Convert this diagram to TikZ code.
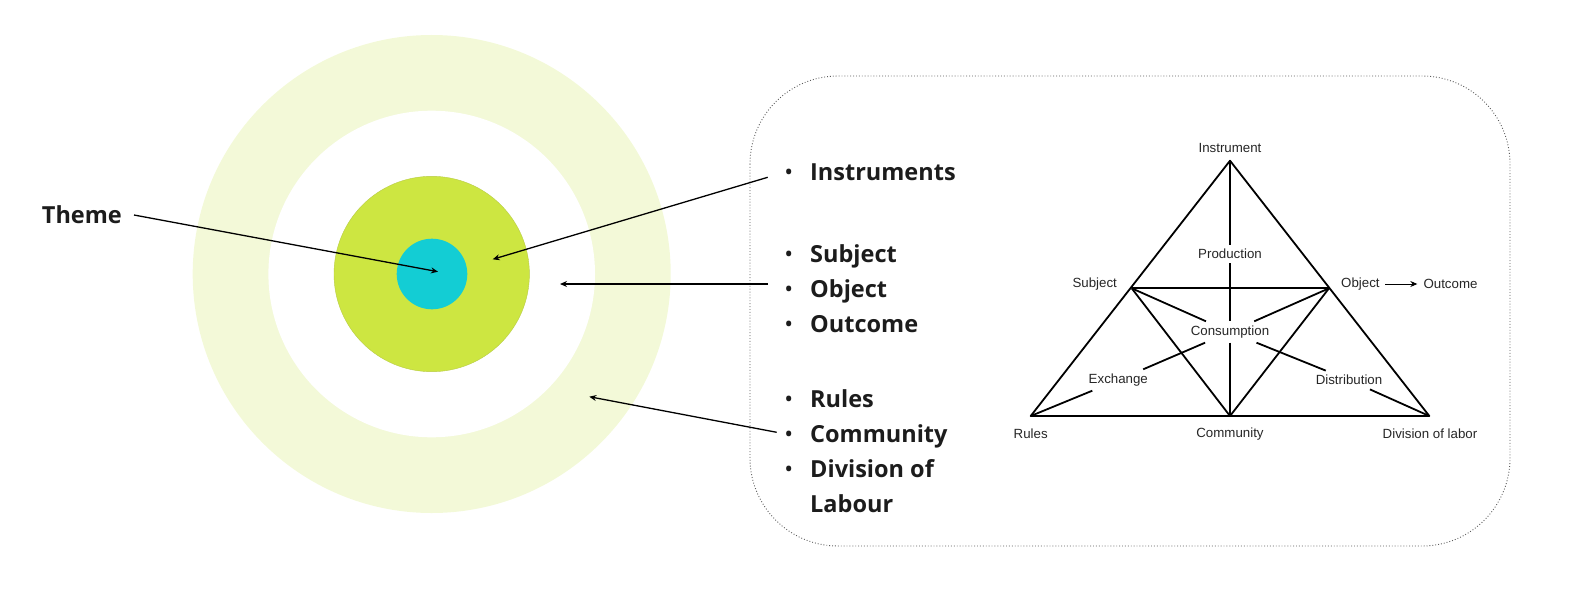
\documentclass[tikz,border=0pt]{standalone}
\usepackage{fontspec}
\setmainfont{Liberation Sans}
\newfontfamily\osans{Open Sans}
\usetikzlibrary{arrows.meta}
\definecolor{ringc}{HTML}{F3F9D8}
\definecolor{greenc}{HTML}{CDE641}
\definecolor{greenedge}{HTML}{B8CC45}
\definecolor{cyanc}{HTML}{13CDD4}
\definecolor{txt}{HTML}{1C1C1C}
\definecolor{boxc}{HTML}{5A5A5A}
\tikzset{
  big/.style={font=\osans\bfseries\fontsize{23.5}{28}\selectfont, text=txt, inner sep=0, anchor=base west},
  tri/.style={font=\fontsize{13.3}{15}\selectfont, text=black!85, inner sep=0},
  lab/.style={font=\fontsize{13.3}{15}\selectfont, text=black!85, inner sep=4.5, outer sep=0},
  tline/.style={line width=1.8, black},
  ptr/.style={line width=1.3, black, -{Stealth[length=7,width=6]}}
}
\newcommand{\bitem}[1]{\llap{{\mdseries\textbullet}\hspace{17pt}}#1}
\begin{document}
\begin{tikzpicture}[x=1pt,y=-1pt]
\useasboundingbox (0,0) rectangle (1578,591);
% target circles
\fill[ringc] (431.7,274) circle (239);
\fill[white] (431.7,274) circle (163.3);
\filldraw[fill=greenc, draw=greenedge, line width=0.4] (431.7,274) circle (97.7);
\fill[cyanc] (432,274) circle (35.3);

% rounded box
\draw[boxc, dotted, line width=0.9, rounded corners=88] (750,76) rectangle (1510,546);

% left labels
\node[big] (theme) at (41.7,223.3) {Theme};
\node[big] (ins) at (810,180.7) {\bitem{Instruments}};
\node[big] (sub) at (810,262.5) {\bitem{Subject}};
\node[big] (obj) at (810,297.5) {\bitem{Object}};
\node[big] (outc) at (810,332.5) {\bitem{Outcome}};
\node[big] (rul) at (810,407) {\bitem{Rules}};
\node[big] (com) at (810,442) {\bitem{Community}};
\node[big] (div) at (810,477) {\bitem{Division of}};
\node[big] (lab) at (810,512) {Labour};

% pointer coordinates
\coordinate (thS) at (134,215);
\coordinate (thE) at (438,271.7);
\coordinate (inS) at (767.7,177.3);
\coordinate (inE) at (492.7,259.3);
\coordinate (suS) at (768,284);
\coordinate (suE) at (560,284);
\coordinate (ruS) at (776.7,432.3);
\coordinate (ruE) at (589.3,396.7);
\draw[ptr] (thS) -- (thE);
\draw[ptr] (inS) -- (inE);
\draw[ptr] (suS) -- (suE);
\draw[ptr] (ruS) -- (ruE);

% triangle vertices
\coordinate (A) at (1230,160.7);
\coordinate (R) at (1030.7,416);
\coordinate (D) at (1429.3,416);
\coordinate (C) at (1230,416);
\coordinate (S) at (1131.7,288.3);
\coordinate (O) at (1329,288.3);

% triangle labels
\node[tri] (tIns) at (1230,148.3) {Instrument};
\node[tri] (tSub) at (1094.7,284) {Subject};
\node[tri, anchor=west, inner sep=0] (tObj) at (1341,284) {Object};
\node[tri, anchor=west, inner sep=0] (tOut) at (1423.3,284) {Outcome};
\node[tri] (tRul) at (1030.7,434) {Rules};
\node[tri] (tCom) at (1230,434) {Community};
\node[tri] (tDiv) at (1430,434) {Division of labor};
\node[lab] (prod) at (1230,254) {Production};
\node[lab] (cons) at (1230,332) {Consumption};
\node[lab] (exch) at (1118.3,380) {Exchange};
\node[lab] (dist) at (1349,380) {Distribution};

% triangle lines
\draw[tline, line join=round] (A) -- (R) -- (D) -- cycle;
\draw[tline] (S) -- (O);
\draw[tline] (S) -- (C);
\draw[tline] (O) -- (C);
\draw[tline] (A) -- (prod);
\draw[tline] (prod) -- (cons);
\draw[tline] (cons) -- (C);
\draw[tline] (S) -- (cons);
\draw[tline] (O) -- (cons);
\draw[tline] (exch) -- (cons);
\draw[tline] (dist) -- (cons);
\draw[tline] (R) -- (exch);
\draw[tline] (D) -- (dist);
\draw[line width=0.8, -{Stealth[length=7,width=6]}, shorten <=5.5, shorten >=6] (tObj.east) -- (tOut.west);
\end{tikzpicture}
\end{document}
